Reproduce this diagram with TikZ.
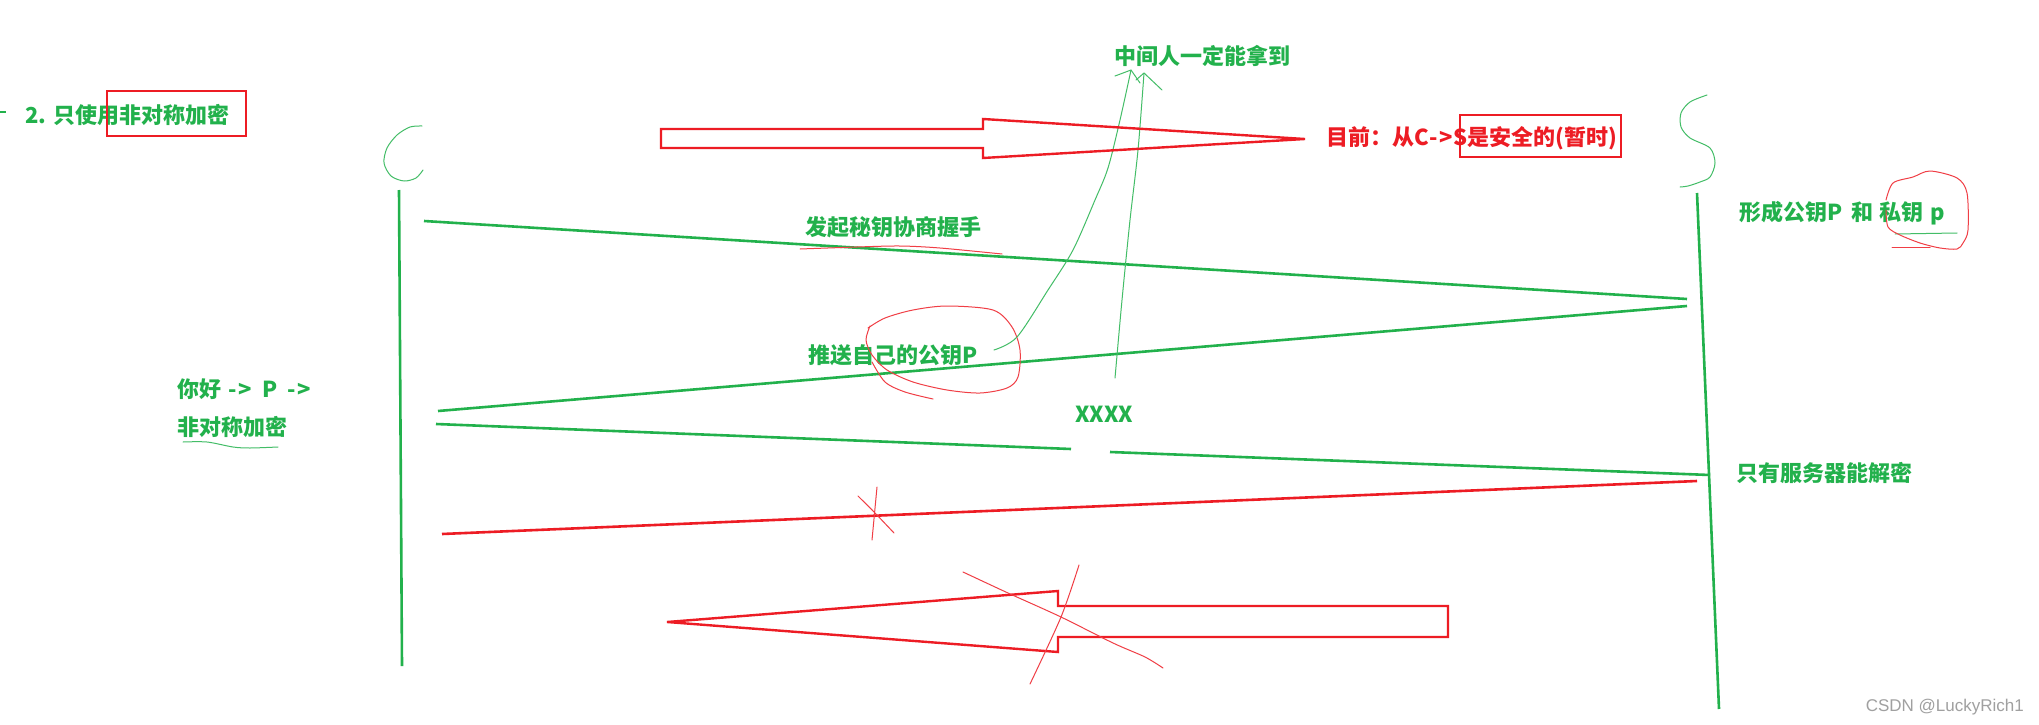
\documentclass[tikz,border=0pt]{standalone}
\usepackage{fontspec}
\newfontfamily\cjk{Noto Sans CJK SC}
\definecolor{pgreen}{RGB}{34,177,76}
\definecolor{pred}{RGB}{237,28,36}
\definecolor{wmgray}{RGB}{160,160,160}
\begin{document}
\begin{tikzpicture}[x=1pt,y=-1pt,
  gtxt/.style={text=pgreen,font=\cjk\bfseries\fontsize{22}{26}\selectfont,inner sep=0pt},
  rtxt/.style={text=pred,font=\cjk\bfseries\fontsize{22}{26}\selectfont,inner sep=0pt},
  gline/.style={draw=pgreen,line width=2.6pt},
  rline/.style={draw=pred,line width=2.6pt},
  thing/.style={draw=pgreen!85,line width=1pt,line cap=round,line join=round},
  thinr/.style={draw=pred!85,line width=1pt,line cap=round,line join=round},
  bigarrow/.style={draw=pred,line width=2.4pt,line join=miter},
  redbox/.style={draw=pred,line width=2pt}]
\fill[white] (0,0) rectangle (2039,725);
\useasboundingbox (0,0) rectangle (2039,725);

% title
\draw[pgreen,line width=2.5pt] (0,112) -- (6,112);
\node[gtxt,anchor=west] (title) at (25,115) {2. 只使用非对称加密};
\draw[redbox] (107,91) rectangle (246,136);

% C and S letters
\draw[thing] plot[smooth] coordinates {(422,126)(410,127)(397,135)(387,148)(384,163)(391,176)(404,181)(416,178)(423,170)};
\draw[thing] plot[smooth] coordinates {(1707,95)(1690,102)(1681,113)(1681,127)(1690,138)(1710,148)(1715,163)(1710,177)(1700,182)(1688,186)(1680,187)};

% lifelines
\coordinate (cTop) at (399,190);
\coordinate (cBot) at (402,666);
\coordinate (sTop) at (1697,193);
\coordinate (sBot) at (1719,709);
\draw[gline] (cTop) -- (cBot);
\draw[gline] (sTop) -- (sBot);

% messages
\coordinate (c1) at (424,221); \coordinate (s1) at (1687,299);
\coordinate (s2) at (1687,306); \coordinate (c2) at (438,411);
\coordinate (c3) at (436,424); \coordinate (g1) at (1071,449);
\coordinate (g2) at (1110,452); \coordinate (s3) at (1710,475);
\coordinate (s4) at (1697,481); \coordinate (c4) at (442,534);
\draw[gline] (c1) -- (s1);
\draw[gline] (s2) -- (c2);
\draw[gline] (c3) -- (g1);
\draw[gline] (g2) -- (s3);
\draw[rline] (s4) -- (c4);

% texts
\node[gtxt] (hs) at (893,227) {发起秘钥协商握手};
\node[gtxt,anchor=west] (push) at (808,355) {推送自己的公钥P};
\node[gtxt,anchor=west] (gen) at (1739,213) {形成公钥P\hspace{9pt}和\hspace{6pt}私钥\hspace{7pt}p};
\node[gtxt] (mitm) at (1202,56) {中间人一定能拿到};
\node[rtxt,anchor=west] (now) at (1326,138) {目前：从C\hspace{1pt}-\hspace{1pt}>\hspace{1pt}S是安全的(暂时)};
\draw[redbox] (1460,115) rectangle (1621,157);
\node[gtxt,anchor=west] (hello) at (177,389) {你好\hspace{7pt}-\hspace{2pt}>\hspace{10pt}P\hspace{10pt}-\hspace{2pt}>};
\node[gtxt,anchor=west] (asym) at (177,427) {非对称加密};
\node[gtxt] (xx) at (1104,414) {XXXX};
\node[gtxt,anchor=west] (only) at (1736,473) {只有服务器能解密};
\node[anchor=east,inner sep=0pt,text=wmgray,font=\fontspec{Liberation Sans}\fontsize{17}{19}\selectfont] (wm) at (2024,707) {CSDN @LuckyRich1};

% hand marks
\draw[thinr] plot[smooth] coordinates {(800,249)(857,247)(900,246)(940,248)(1002,254)};
\draw[thing] plot[smooth] coordinates {(183,442)(207,442)(233,447)(250,448)(278,447)};
\draw[thing] (1895,234) -- (1957,233);
\draw[thinr] plot[smooth] coordinates {(868,328)(885,318)(913,310)(947,306)(993,310)(1012,327)(1020,350)(1018,377)(1007,388)(980,393)(947,390)(913,382)(887,370)(872,355)(866,340)(870,326)};
\draw[thinr] plot[smooth] coordinates {(872,362)(885,382)(905,392)(933,399)};
\draw[thinr] plot[smooth] coordinates {(1886,200)(1893,183)(1913,177)(1930,171)(1957,178)(1967,193)(1968,230)(1963,243)(1957,249)(1940,248)(1920,243)(1900,235)(1888,227)(1886,210)};
\draw[thinr] (1892,247) -- (1930,247);

% green arrows to the man in the middle
\coordinate (aTip) at (1131,70);
\coordinate (bTip) at (1144,73);
\draw[thing] plot[smooth] coordinates {(994,350)(1017,337)(1048,290)(1073,250)(1095,200)(1108,168)(1120,120)(aTip)};
\draw[thing] (1115,76) -- (aTip) -- (1140,83);
\draw[thing] plot[smooth] coordinates {(1115,378)(1122,300)(1130,220)(1138,150)(bTip)};
\draw[thing] (1136,80) -- (bTip) -- (1162,90);

% red X on last message
\draw[thinr] (877,487) -- (872,540);
\draw[thinr] plot[smooth] coordinates {(858,496)(875,513)(894,533)};

% top big arrow
\draw[bigarrow] (661,129) -- (983,129) -- (983,119) -- (1305,139) -- (983,158) -- (983,148) -- (661,148) -- cycle;

% bottom big arrow
\draw[bigarrow] (1448,606) -- (1058,606) -- (1058,591) -- (667,622) -- (1058,652) -- (1058,637) -- (1448,637) -- cycle;
\draw[thinr] plot[smooth] coordinates {(963,572)(1008,593)(1061,617)(1113,643)(1145,657)(1163,668)};
\draw[thinr] plot[smooth] coordinates {(1079,565)(1061,617)(1030,684)};
\end{tikzpicture}
\end{document}
